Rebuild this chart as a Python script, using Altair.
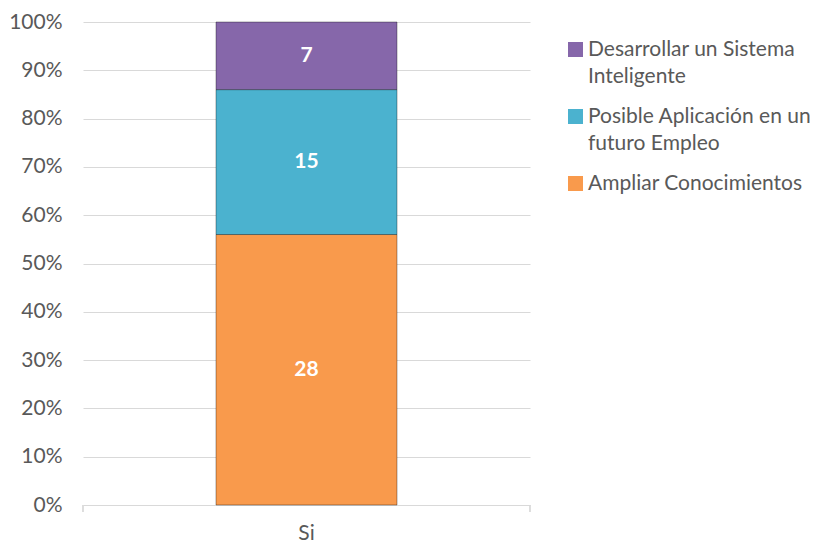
import altair as alt
import pandas as pd

grupo = ["Si", "Si", "Si"]
categorias = ["Ampliar Conocimientos", "Posible Aplicación en un futuro Empleo", "Desarrollar un Sistema Inteligente"]
valores = [28, 15, 7]
orden = [0, 1, 2]

legend_order = ["Desarrollar un Sistema Inteligente", "Posible Aplicación en un futuro Empleo", "Ampliar Conocimientos"]
colores = ["#8667AA", "#4BB2CF", "#F99A4C"]
y_ticks = [0, 0.1, 0.2, 0.3, 0.4, 0.5, 0.6, 0.7, 0.8, 0.9, 1.0]

df = pd.DataFrame({"grupo": grupo, "categoria": categorias, "valor": valores, "orden": orden})

FONT = "Lato"
GREY = "#595959"

label_expr = (
    "datum.label == 'Desarrollar un Sistema Inteligente' ? ['Desarrollar un Sistema', 'Inteligente'] : "
    "datum.label == 'Posible Aplicación en un futuro Empleo' ? ['Posible Aplicación en un', 'futuro Empleo'] : datum.label"
)

base = alt.Chart(df).transform_stack(
    stack="valor", as_=["y0", "y1"], groupby=["grupo"],
    sort=[alt.SortField("orden", order="ascending")], offset="normalize"
).transform_calculate(mid="(datum.y0 + datum.y1) / 2")

x_enc = alt.X("grupo:N", title=None,
              scale=alt.Scale(paddingInner=0.4236, paddingOuter=0.4236),
              axis=alt.Axis(labelAngle=0, ticks=False, domainColor="#d9d9d9",
                            labelFont=FONT, labelFontSize=21, labelColor=GREY,
                            labelPadding=17))

bars = base.mark_bar(stroke="#000000", strokeOpacity=0.35, strokeWidth=1).encode(
    x=x_enc,
    y=alt.Y("y0:Q", title=None, scale=alt.Scale(domain=[0, 1]),
            axis=alt.Axis(values=y_ticks, format=".0%", domain=False, ticks=False,
                          gridColor="#d9d9d9", labelFont=FONT, labelFontSize=21,
                          labelColor=GREY, labelPadding=21)),
    y2="y1:Q",
    color=alt.Color("categoria:N",
                    scale=alt.Scale(domain=legend_order, range=colores),
                    legend=alt.Legend(title=None, orient="none", legendX=482, legendY=17,
                                      symbolType="square", symbolSize=225, symbolStrokeWidth=0,
                                      labelFont=FONT, labelFontSize=21, labelColor=GREY,
                                      labelOffset=2, labelLimit=400, rowPadding=18,
                                      labelExpr=label_expr)),
)

texts = base.mark_text(color="white", fontWeight="bold", font=FONT, fontSize=21).encode(
    x="grupo:N",
    y="mid:Q",
    text="valor:Q",
)

tick_l = alt.Chart(df).mark_rule(color="#d9d9d9").encode(
    x=alt.value(0), y=alt.value(483), y2=alt.value(490))
tick_r = alt.Chart(df).mark_rule(color="#d9d9d9").encode(
    x=alt.value(447), y=alt.value(483), y2=alt.value(490))

chart = alt.layer(bars, texts, tick_l, tick_r).properties(
    width=447, height=483, autosize="none",
    padding={"left": 75, "top": 14, "right": 287, "bottom": 39},
).configure(style={"guide-label": {"lineHeight": 27}}).configure_view(stroke="transparent")

chart.save("out.html", embed_options={"renderer": "svg", "actions": False})
